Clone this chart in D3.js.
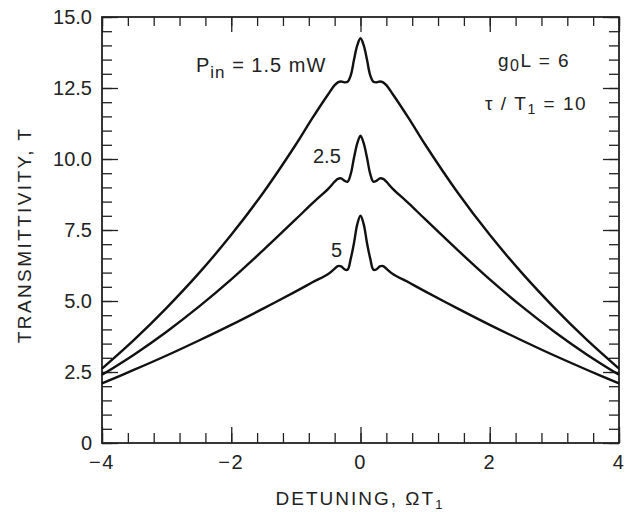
<!DOCTYPE html>
<html>
<head>
<meta charset="utf-8">
<script src="https://cdn.jsdelivr.net/npm/d3@7"></script>
<style>
  body { margin: 0; background: #fff; }
  text { font-family: "Liberation Sans", Arial, sans-serif; fill: #222; }
</style>
</head>
<body>
<div id="chart"></div>
<script>
// detuning values (Omega T1) shared by the three curves
const detuning = [-4, -3.5, -3, -2.5, -2, -1.5, -1, -0.75, -0.5, -0.4, -0.35, -0.3, -0.25, -0.2, -0.15, -0.1, -0.05,
  0, 0.05, 0.1, 0.15, 0.2, 0.25, 0.3, 0.35, 0.4, 0.5, 0.75, 1, 1.5, 2, 2.5, 3, 3.5, 4];

// transmittivity, one list per input power
const t15 = [2.62, 3.64, 4.76, 5.98, 7.33, 8.83, 10.51, 11.42, 12.28, 12.6, 12.7, 12.73, 12.7, 12.72, 12.95, 13.5, 14.0,
  14.25, 14.0, 13.5, 12.95, 12.72, 12.7, 12.73, 12.7, 12.6, 12.28, 11.42, 10.51, 8.83, 7.33, 5.98, 4.76, 3.64, 2.62];
const t25 = [2.4, 3.12, 3.92, 4.8, 5.76, 6.8, 7.88, 8.43, 8.95, 9.2, 9.3, 9.32, 9.24, 9.2, 9.48, 10.05, 10.55,
  10.82, 10.55, 10.05, 9.48, 9.2, 9.24, 9.32, 9.3, 9.2, 8.95, 8.43, 7.88, 6.8, 5.76, 4.8, 3.92, 3.12, 2.4];
const t5 = [2.1, 2.58, 3.08, 3.61, 4.16, 4.74, 5.34, 5.65, 5.95, 6.14, 6.23, 6.22, 6.12, 6.1, 6.5, 7.05, 7.7,
  8.0, 7.7, 7.05, 6.5, 6.1, 6.12, 6.22, 6.23, 6.14, 5.95, 5.65, 5.34, 4.74, 4.16, 3.61, 3.08, 2.58, 2.1];

const xMajor = [-4, -2, 0, 2, 4];
const xLabels = ["\u22124", "\u22122", "0", "2", "4"];
const yMajor = [0, 2.5, 5, 7.5, 10, 12.5, 15];
const yLabels = ["0", "2.5", "5.0", "7.5", "10.0", "12.5", "15.0"];

const W = 626, H = 512;
const box = { left: 102, right: 619, top: 17, bottom: 443 };

const svg = d3.select("#chart").append("svg")
  .attr("width", W).attr("height", H);

const x = d3.scaleLinear().domain([-4, 4]).range([box.left, box.right]);
const y = d3.scaleLinear().domain([0, 15]).range([box.bottom, box.top]);

const xMinor = d3.range(-4, 4.001, 0.4).map(v => +v.toFixed(2));
const yMinor = d3.range(0, 15.001, 0.5);

function styleAxis(g) {
  g.select(".domain").remove();
  g.selectAll("line").attr("stroke", "#222").attr("stroke-width", 1.3);
  g.selectAll("text").remove();
}

// inward ticks on all four sides
svg.append("g").attr("transform", `translate(0,${box.bottom})`)
  .call(d3.axisBottom(x).tickValues(xMinor).tickSize(-10)).call(styleAxis);
svg.append("g").attr("transform", `translate(0,${box.bottom})`)
  .call(d3.axisBottom(x).tickValues(xMajor).tickSize(-16)).call(styleAxis);
svg.append("g").attr("transform", `translate(0,${box.top})`)
  .call(d3.axisTop(x).tickValues(xMinor).tickSize(-9)).call(styleAxis);
svg.append("g").attr("transform", `translate(0,${box.top})`)
  .call(d3.axisTop(x).tickValues(xMajor).tickSize(-15)).call(styleAxis);
svg.append("g").attr("transform", `translate(${box.left},0)`)
  .call(d3.axisLeft(y).tickValues(yMinor).tickSize(-10)).call(styleAxis);
svg.append("g").attr("transform", `translate(${box.left},0)`)
  .call(d3.axisLeft(y).tickValues(yMajor).tickSize(-16)).call(styleAxis);
svg.append("g").attr("transform", `translate(${box.right},0)`)
  .call(d3.axisRight(y).tickValues(yMinor).tickSize(-10)).call(styleAxis);
svg.append("g").attr("transform", `translate(${box.right},0)`)
  .call(d3.axisRight(y).tickValues(yMajor).tickSize(-16)).call(styleAxis);

// frame
svg.append("rect")
  .attr("x", box.left).attr("y", box.top)
  .attr("width", box.right - box.left).attr("height", box.bottom - box.top)
  .attr("fill", "none").attr("stroke", "#222").attr("stroke-width", 1.8);

// tick labels
svg.append("g").selectAll("text").data(xMajor).join("text")
  .attr("x", d => x(d)).attr("y", 469)
  .attr("text-anchor", "middle").attr("font-size", 20).attr("letter-spacing", 1.5)
  .text((d, i) => xLabels[i]);
svg.append("g").selectAll("text").data(yMajor).join("text")
  .attr("x", 92).attr("y", d => y(d) + 7)
  .attr("text-anchor", "end").attr("font-size", 20)
  .text((d, i) => yLabels[i]);

// axis titles
const xt = svg.append("text").attr("x", 360).attr("y", 505)
  .attr("text-anchor", "middle").attr("font-size", 19).attr("letter-spacing", 2);
xt.append("tspan").text("DETUNING, \u03A9T");
xt.append("tspan").attr("font-size", 13).attr("dy", 4).text("1");

svg.append("text")
  .attr("transform", "translate(31,235) rotate(-90)")
  .attr("text-anchor", "middle").attr("font-size", 19).attr("letter-spacing", 2.4)
  .text("TRANSMITTIVITY, T");

// curves
const line = d3.line()
  .x((d, i) => x(detuning[i]))
  .y(d => y(d))
  .curve(d3.curveCatmullRom.alpha(0.5));

[t15, t25, t5].forEach(s => {
  svg.append("path").datum(s)
    .attr("d", line)
    .attr("fill", "none").attr("stroke", "#111").attr("stroke-width", 2.4);
});

// annotations
const p = svg.append("text").attr("x", 196).attr("y", 72).attr("font-size", 20).attr("letter-spacing", 1);
p.append("tspan").text("P");
p.append("tspan").attr("font-size", 17).attr("dy", 6).text("in");
p.append("tspan").attr("dy", -6).text(" = 1.5 mW");

svg.append("text").attr("x", 313).attr("y", 163).attr("font-size", 20).text("2.5");
svg.append("text").attr("x", 331).attr("y", 257).attr("font-size", 20).text("5");

const g = svg.append("text").attr("x", 498).attr("y", 67).attr("font-size", 19).attr("letter-spacing", 1.5);
g.append("tspan").text("g");
g.append("tspan").attr("font-size", 16).attr("dy", 4).text("0");
g.append("tspan").attr("dy", -4).text("L = 6");

const tau = svg.append("text").attr("x", 485).attr("y", 110).attr("font-size", 19).attr("letter-spacing", 1.5);
tau.append("tspan").text("\u03C4 / T");
tau.append("tspan").attr("font-size", 14).attr("dy", 4).text("1");
tau.append("tspan").attr("dy", -4).text(" = 10");
</script>
</body>
</html>
